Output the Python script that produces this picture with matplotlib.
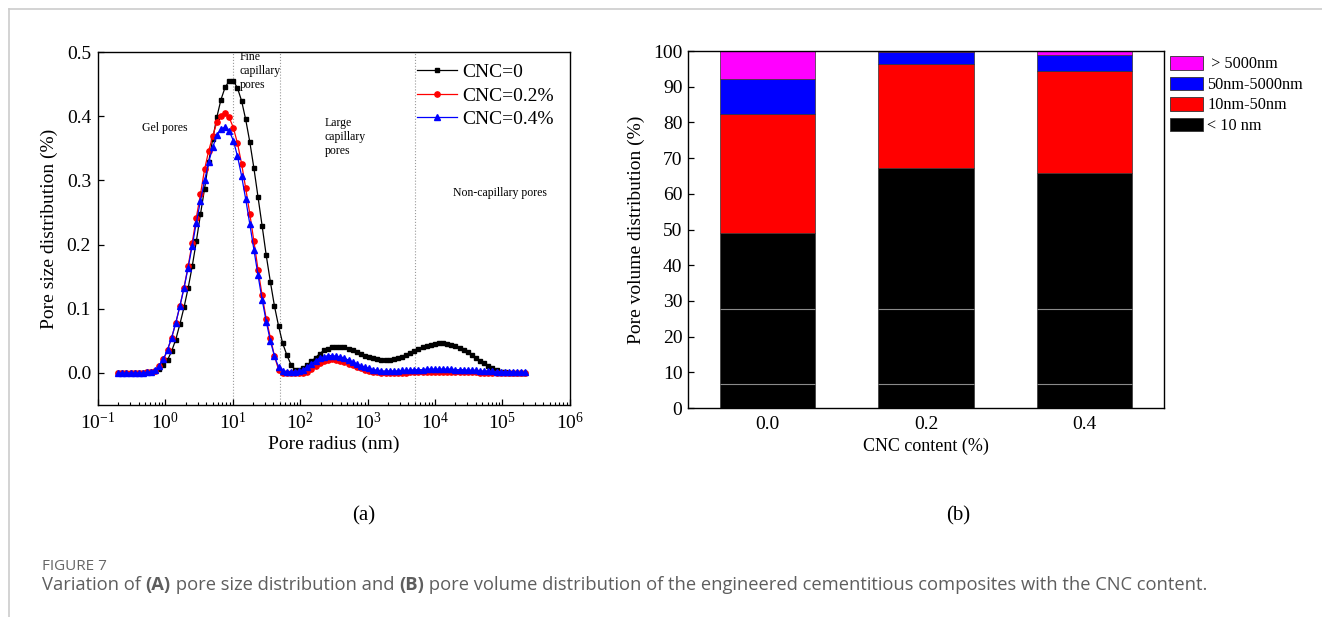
import matplotlib
matplotlib.use("Agg")
import matplotlib.pyplot as plt
from matplotlib.lines import Line2D
from matplotlib.patches import Patch
from matplotlib.ticker import LogLocator, NullFormatter, FormatStrFormatter

# ---- (a) pore size distribution ----
radius = [
    0.1995, 0.2296, 0.2642, 0.3041, 0.3499, 0.4027, 0.4634, 0.5333, 0.6138, 0.7063,
    0.8128, 0.9354, 1.076, 1.239, 1.426, 1.641, 1.888, 2.173, 2.500, 2.877,
    3.311, 3.811, 4.385, 5.047, 5.808, 6.683, 7.691, 8.851, 10.19, 11.72,
    13.49, 15.52, 17.86, 20.56, 23.66, 27.23, 31.33, 36.06, 41.50, 47.75,
    54.95, 63.24, 72.78, 83.75, 96.38, 110.9, 127.6, 146.9, 169.0, 194.5,
    223.9, 257.6, 296.5, 341.2, 392.6, 451.9, 520.0, 598.4, 688.7, 792.5,
    912.0, 1050, 1208, 1390, 1600, 1841, 2118, 2438, 2805, 3228,
    3715, 4276, 4920, 5662, 6516, 7499, 8630, 9931, 11430, 13150,
    15140, 17420, 20040, 23070, 26550, 30550, 35160, 40460, 46560, 53580,
    61660, 70960, 81660, 93980, 108100, 124500, 143200, 164800, 189700, 218300,
]
psd_cnc0 = [
    0, 0, 0, 0, 0, 0, 0, 0.001, 0.001, 0.003,
    0.006, 0.012, 0.020, 0.034, 0.052, 0.076, 0.102, 0.132, 0.166, 0.205,
    0.247, 0.287, 0.329, 0.365, 0.399, 0.426, 0.445, 0.455, 0.455, 0.444,
    0.424, 0.395, 0.360, 0.319, 0.274, 0.229, 0.183, 0.142, 0.104, 0.073,
    0.046, 0.028, 0.013, 0.005, 0.005, 0.007, 0.012, 0.018, 0.024, 0.030,
    0.035, 0.038, 0.040, 0.041, 0.041, 0.040, 0.038, 0.036, 0.033, 0.030,
    0.027, 0.025, 0.023, 0.021, 0.020, 0.020, 0.020, 0.021, 0.023, 0.025,
    0.028, 0.031, 0.034, 0.037, 0.040, 0.042, 0.044, 0.045, 0.046, 0.046,
    0.045, 0.044, 0.042, 0.039, 0.036, 0.032, 0.028, 0.024, 0.019, 0.015,
    0.011, 0.007, 0.004, 0.002, 0.001, 0, 0, 0, 0, 0,
]
psd_cnc02 = [
    0, 0, 0, 0, 0, 0, 0, 0.001, 0.001, 0.003,
    0.011, 0.021, 0.036, 0.055, 0.078, 0.104, 0.133, 0.166, 0.203, 0.242,
    0.278, 0.317, 0.346, 0.369, 0.391, 0.401, 0.405, 0.398, 0.382, 0.358,
    0.326, 0.288, 0.248, 0.205, 0.161, 0.121, 0.084, 0.055, 0.026, 0.005,
    0, 0, 0, 0, 0, 0, 0.002, 0.006, 0.011, 0.015,
    0.018, 0.020, 0.021, 0.020, 0.019, 0.017, 0.014, 0.012, 0.009, 0.007,
    0.005, 0.003, 0.002, 0.001, 0, 0, 0, 0, 0, 0,
    0, 0.001, 0.001, 0.001, 0.001, 0.002, 0.002, 0.002, 0.002, 0.002,
    0.002, 0.002, 0.002, 0.001, 0.001, 0.001, 0.001, 0.001, 0, 0,
    0, 0, 0, 0, 0, 0, 0, 0, 0, 0,
]
psd_cnc04 = [
    0, 0, 0, 0, 0, 0, 0, 0.001, 0.002, 0.004,
    0.011, 0.021, 0.036, 0.055, 0.078, 0.104, 0.132, 0.164, 0.198, 0.234,
    0.268, 0.300, 0.328, 0.352, 0.370, 0.380, 0.383, 0.377, 0.362, 0.338,
    0.307, 0.271, 0.232, 0.192, 0.152, 0.114, 0.080, 0.050, 0.026, 0.009,
    0.003, 0.002, 0.002, 0.002, 0.003, 0.005, 0.009, 0.014, 0.019, 0.023,
    0.025, 0.027, 0.027, 0.026, 0.025, 0.023, 0.020, 0.017, 0.014, 0.011,
    0.009, 0.007, 0.005, 0.004, 0.003, 0.003, 0.003, 0.003, 0.003, 0.004,
    0.004, 0.004, 0.005, 0.005, 0.005, 0.006, 0.006, 0.006, 0.006, 0.006,
    0.006, 0.006, 0.005, 0.005, 0.005, 0.004, 0.004, 0.004, 0.003, 0.003,
    0.003, 0.003, 0.002, 0.002, 0.002, 0.002, 0.002, 0.001, 0.001, 0.001,
]
pore_bounds = [10, 50, 5000]

# ---- (b) pore volume distribution ----
cnc_content = ['0.0', '0.2', '0.4']
vol_lt10 = [49.0, 67.3, 65.8]
vol_10_50 = [33.4, 29.1, 28.5]
vol_50_5000 = [9.9, 3.3, 4.7]
vol_gt5000 = [7.7, 0.3, 1.0]
vol_labels = ['< 10 nm', '10nm-50nm', '50nm-5000nm', ' > 5000nm']
vol_colors = ['#000000', '#ff0000', '#0000ff', '#ff00ff']

plt.rcParams['font.family'] = 'Liberation Serif'
plt.rcParams['mathtext.fontset'] = 'custom'
plt.rcParams['mathtext.rm'] = 'Liberation Serif'
plt.rcParams['mathtext.it'] = 'Liberation Serif:italic'

fig = plt.figure(figsize=(13.22, 6.17), dpi=100)
ax1 = fig.add_axes([0.0741, 0.3436, 0.357, 0.5721])
ax2 = fig.add_axes([0.5204, 0.3387, 0.3601, 0.5786])

# figure frame lines (page border)
fig.add_artist(Line2D([9/1322, 1], [1-9/617, 1-9/617], color='#cccccc', lw=1.2))
fig.add_artist(Line2D([9/1322, 9/1322], [0, 1-9/617], color='#cccccc', lw=1.2))

# --- left panel ---
for b in pore_bounds:
    ax1.axvline(b, color='#9a9a9a', ls=':', lw=0.8, zorder=0)
ax1.plot(radius, psd_cnc0, '-s', color='black', ms=3.4, lw=0.9, label='CNC=0')
ax1.plot(radius, psd_cnc02, '-o', color='#ff0000', ms=3.8, lw=0.9, label='CNC=0.2%')
ax1.plot(radius, psd_cnc04, '-^', color='#0000ff', ms=4.0, lw=0.9, label='CNC=0.4%')
ax1.set_xscale('log')
ax1.set_xlim(0.1, 1e6)
ax1.set_ylim(-0.05, 0.5)
ax1.set_yticks([0, 0.1, 0.2, 0.3, 0.4, 0.5])
ax1.yaxis.set_major_formatter(FormatStrFormatter('%.1f'))
ax1.xaxis.set_major_locator(LogLocator(base=10, numticks=10))
ax1.xaxis.set_minor_locator(LogLocator(base=10, subs=range(2, 10), numticks=100))
ax1.xaxis.set_minor_formatter(NullFormatter())
ax1.tick_params(which='both', direction='in', top=False, right=False, labelsize=14, pad=5)
ax1.tick_params(which='major', length=4, width=0.9)
ax1.tick_params(which='minor', length=2.2, width=0.8)
for s in ax1.spines.values():
    s.set_linewidth(1.0)
ax1.set_xlabel('Pore radius (nm)', fontsize=14, labelpad=2)
ax1.set_ylabel('Pore size distribution (%)', fontsize=14, labelpad=6)

ax1.text(0.986, 0.381, 'Gel pores', fontsize=8.5, ha='center', va='center')
ax1.text(12.5, 0.470, 'Fine\ncapillary\npores', fontsize=8.5, ha='left', va='center')
ax1.text(228, 0.368, 'Large\ncapillary\npores', fontsize=8.5, ha='left', va='center')
ax1.text(18700, 0.281, 'Non-capillary pores', fontsize=8.5, ha='left', va='center')

ax1.legend(loc='upper left', bbox_to_anchor=(0.675, 0.967), frameon=False, fontsize=14,
           handlelength=2.06, handletextpad=0.31, labelspacing=0.29,
           borderpad=0, borderaxespad=0)

# --- right panel ---
xpos = list(range(len(cnc_content)))
bottom = [0.0] * len(xpos)
handles = []
for vals, col, lab in zip([vol_lt10, vol_10_50, vol_50_5000, vol_gt5000], vol_colors, vol_labels):
    ax2.bar(xpos, vals, width=0.6, bottom=bottom, color=col, edgecolor='#333333', lw=0.5)
    bottom = [b + v for b, v in zip(bottom, vals)]
    handles.append(Patch(facecolor=col, edgecolor='#333333', lw=0.6, label=lab))
# faint scan lines crossing the bars in the original
for xi in xpos:
    ax2.hlines([27.6, 6.6], xi - 0.3, xi + 0.3, colors='#8a8a8a', lw=0.8, zorder=3)
ax2.set_xlim(-0.5, 2.5)
ax2.set_ylim(0, 100)
ax2.set_yticks(range(0, 101, 10))
ax2.set_xticks(xpos)
ax2.set_xticklabels(cnc_content)
ax2.tick_params(axis='y', direction='in', length=4, width=0.9, labelsize=14, pad=4)
ax2.tick_params(axis='x', length=0, labelsize=14, pad=6)
for s in ax2.spines.values():
    s.set_linewidth(1.0)
ax2.set_xlabel('CNC content (%)', fontsize=13, labelpad=3)
ax2.set_ylabel('Pore volume distribution (%)', fontsize=14, labelpad=6)
ax2.legend(handles=handles[::-1], loc='upper left', bbox_to_anchor=(1.0126, 0.986),
           frameon=False, fontsize=11.7, handlelength=2.0, handleheight=0.92,
           handletextpad=0.3, labelspacing=0.25, borderpad=0, borderaxespad=0)

fig.text(364/1322, 1 - 516/617, '(a)', ha='center', va='center', fontsize=15)
fig.text(958/1322, 1 - 516/617, '(b)', ha='center', va='center', fontsize=15)

# --- caption ---
fig.text(42/1322, 1 - 567/617, 'FIGURE 7', ha='left', va='center', fontsize=11,
         family='Open Sans', color='#666666')
pieces = [('Variation of ', 'normal'), ('(A)', 'bold'), (' pore size distribution and ', 'normal'),
          ('(B)', 'bold'),
          (' pore volume distribution of the engineered cementitious composites with the CNC content.', 'normal')]
prev = fig.text(42/1322, 1 - 585/617, pieces[0][0], ha='left', va='center', fontsize=13.2,
                family='Open Sans', color='#5e5e5e', fontweight=pieces[0][1])
for txt, wt in pieces[1:]:
    prev = ax1.annotate(txt, xy=(1, 0), xycoords=prev, ha='left', va='bottom', fontsize=13.2,
                        family='Open Sans', color='#5e5e5e', fontweight=wt,
                        annotation_clip=False)

fig.savefig('out.png', dpi=100)
